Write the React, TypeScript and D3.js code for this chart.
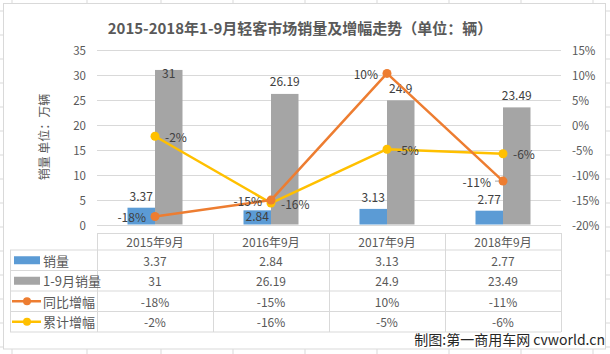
import React from 'react';
import * as d3 from 'd3';

const categories = ['2015年9月', '2016年9月', '2017年9月', '2018年9月'];
const monthSales = [3.37, 2.84, 3.13, 2.77];
const ytdSales = [31, 26.19, 24.9, 23.49];
const yoyGrowth = [-18.4, -15.1, 10.3, -11.3];
const ytdGrowth = [-2.3, -15.7, -4.9, -5.8];
const yoyText = ['-18%', '-15%', '10%', '-11%'];
const ytdText = ['-2%', '-16%', '-5%', '-6%'];
const leftTicks = [0, 5, 10, 15, 20, 25, 30, 35];
const rightTicks = [-20, -15, -10, -5, 0, 5, 10, 15];

const W = 610;
const H = 354;
const plotLeft = 97;
const plotRight = 561;
const plotTop = 50;
const plotBottom = 224.5;

const BLUE = '#5b9bd5';
const GRAY = '#a5a5a5';
const ORANGE = '#ed7d31';
const YELLOW = '#ffc000';
const TXT = '#595959';
const GRID = '#d9d9d9';
const FONT = '"Noto Sans CJK SC", "Noto Sans", sans-serif';

const App = () => {
  const x = d3.scaleBand<string>().domain(categories).range([plotLeft, plotRight]);
  const yL = d3.scaleLinear().domain([0, 35]).range([plotBottom, plotTop]);
  const yR = d3.scaleLinear().domain([-20, 15]).range([plotBottom, plotTop]);
  const barW = 27.5;
  const cx = (i: number) => (x(categories[i]) as number) + x.bandwidth() / 2;

  const lineGen = (vals: number[]) =>
    d3.line<number>().x((_, i) => cx(i)).y(d => yR(d))(vals) as string;

  // table rows
  const headerTop = 233;
  const rowH = 20.5;
  const tableTop = 250;
  const tableLeft = 10;
  const rows = [
    { name: '销量', key: 'bar', color: BLUE, vals: monthSales.map(String) },
    { name: '1-9月销量', key: 'bar', color: GRAY, vals: ytdSales.map(String) },
    { name: '同比增幅', key: 'line', color: ORANGE, vals: yoyText },
    { name: '累计增幅', key: 'line', color: YELLOW, vals: ytdText },
  ];

  // orange labels sit left of the point, yellow ones to the right
  const orangeLabels = yoyGrowth.map((v, i) => ({ x: cx(i) - 9, y: yR(v), anchor: 'end', t: yoyText[i] }));
  const yellowLabels = ytdGrowth.map((v, i) => ({ x: cx(i) + 10, y: yR(v), anchor: 'start', t: ytdText[i] }));

  const blueLabelY = monthSales.map((v, i) => {
    const top = yL(v);
    let y = top - 12.5;
    const bx = cx(i) - barW / 2;
    const hit = orangeLabels.some(l => Math.abs(l.y - y) < 12 && l.x > bx - 12 && l.x - 26 < bx + 12);
    if (hit) y = top + 5;
    return y;
  });

  const sheetCols = [12, 87, 161, 233, 305, 377, 449, 521, 593];
  const sheetRows = d3.range(11, 354, 24);

  return (
    <svg width={W} height={H} style={{ position: 'absolute', left: 0, top: 0, background: '#fff' }} fontFamily={FONT}>
      {/* spreadsheet grid peeking out around the chart */}
      {sheetCols.map(c => (
        <g key={'sc' + c}>
          <line x1={c} x2={c} y1={0} y2={3} stroke={GRID} />
          <line x1={c} x2={c} y1={349} y2={354} stroke={GRID} />
        </g>
      ))}
      {sheetRows.map(r => (
        <g key={'sr' + r}>
          <line x1={0} x2={3} y1={r} y2={r} stroke={GRID} />
          <line x1={606} x2={610} y1={r} y2={r} stroke={GRID} />
        </g>
      ))}
      <rect x={3.5} y={3.5} width={602} height={345.5} fill="#fff" stroke={GRID} />

      <text x={300} y={27} textAnchor="middle" dominantBaseline="central" fontSize={15} fontWeight="bold" fill={TXT}>
        2015-2018年1-9月轻客市场销量及增幅走势（单位：辆）
      </text>

      <text transform={`translate(43,137) rotate(-90)`} textAnchor="middle" dominantBaseline="central" fontSize={12} fill={TXT}>
        销量 单位：万辆
      </text>

      {leftTicks.map(t => (
        <g key={'l' + t}>
          <line x1={plotLeft} x2={plotRight} y1={Math.round(yL(t)) + 0.5} y2={Math.round(yL(t)) + 0.5} stroke={GRID} />
          <text x={86} y={yL(t)} textAnchor="end" dominantBaseline="central" fontSize={11.5} fill={TXT}>{t}</text>
        </g>
      ))}
      {rightTicks.map(t => (
        <text key={'r' + t} x={572} y={yR(t)} dominantBaseline="central" fontSize={11.5} fill={TXT}>{t}%</text>
      ))}

      {categories.map((c, i) => (
        <g key={'b' + c}>
          <rect x={cx(i) - barW} y={yL(monthSales[i])} width={barW} height={plotBottom - yL(monthSales[i])} fill={BLUE} />
          <rect x={cx(i)} y={yL(ytdSales[i])} width={barW} height={plotBottom - yL(ytdSales[i])} fill={GRAY} />
        </g>
      ))}

      {categories.map((c, i) => (
        <g key={'bl' + c} fontSize={12} fill="#404040">
          <text x={cx(i) - barW / 2} y={blueLabelY[i]} textAnchor="middle" dominantBaseline="central">{monthSales[i]}</text>
          <text x={cx(i) + barW / 2} y={Math.max(yL(ytdSales[i]) - 13, plotTop + 22)} textAnchor="middle" dominantBaseline="central">{ytdSales[i]}</text>
        </g>
      ))}

      <path d={lineGen(ytdGrowth)} fill="none" stroke={YELLOW} strokeWidth={2.5} strokeLinejoin="round" />
      {ytdGrowth.map((v, i) => <circle key={'yc' + i} cx={cx(i)} cy={yR(v)} r={4.5} fill={YELLOW} />)}
      <path d={lineGen(yoyGrowth)} fill="none" stroke={ORANGE} strokeWidth={2.5} strokeLinejoin="round" />
      {yoyGrowth.map((v, i) => <circle key={'oc' + i} cx={cx(i)} cy={yR(v)} r={4.5} fill={ORANGE} />)}

      {/* short leader line on the last orange label */}
      <line x1={cx(3) - 8} x2={cx(3) - 4} y1={yR(yoyGrowth[3])} y2={yR(yoyGrowth[3])} stroke="#a6a6a6" />

      {[...orangeLabels, ...yellowLabels].map((l, i) => (
        <text key={'ll' + i} x={l.x - (i === 3 ? 3 : 0)} y={l.y} textAnchor={l.anchor as any} dominantBaseline="central" fontSize={12} fill="#404040">{l.t}</text>
      ))}

      {/* data table */}
      <g stroke={GRID} fill="none">
        <line x1={plotLeft} x2={plotRight} y1={headerTop + 0.5} y2={headerTop + 0.5} />
        {d3.range(rows.length + 1).map(k => (
          <line key={'h' + k} x1={tableLeft} x2={plotRight} y1={tableTop + k * rowH} y2={tableTop + k * rowH} />
        ))}
        <line x1={tableLeft + 0.5} x2={tableLeft + 0.5} y1={tableTop} y2={tableTop + rows.length * rowH} />
        {[...categories.map(c => x(c) as number), plotRight].map((v, k) => (
          <line key={'v' + k} x1={Math.round(v) + 0.5} x2={Math.round(v) + 0.5} y1={headerTop} y2={tableTop + rows.length * rowH} />
        ))}
      </g>
      {categories.map((c, i) => (
        <text key={'hd' + c} x={cx(i)} y={(headerTop + tableTop) / 2} textAnchor="middle" dominantBaseline="central" fontSize={12} fill={TXT}>{c}</text>
      ))}
      {rows.map((r, k) => {
        const ym = tableTop + k * rowH + rowH / 2;
        return (
          <g key={'row' + k}>
            {r.key === 'bar'
              ? <rect x={14} y={ym - 4} width={26} height={8} fill={r.color} />
              : <g>
                  <line x1={12} x2={41} y1={ym} y2={ym} stroke={r.color} strokeWidth={2.5} />
                  <circle cx={27} cy={ym} r={4} fill={r.color} />
                </g>}
            <text x={43} y={ym} dominantBaseline="central" fontSize={13} fill={TXT}>{r.name}</text>
            {r.vals.map((v, i) => (
              <text key={i} x={cx(i)} y={ym} textAnchor="middle" dominantBaseline="central" fontSize={12} fill={TXT}>{v}</text>
            ))}
          </g>
        );
      })}

      <text x={605} y={339} textAnchor="end" dominantBaseline="central" fontSize={14} fill="#262626">制图:第一商用车网 cvworld.cn</text>
    </svg>
  );
};

export default App;
